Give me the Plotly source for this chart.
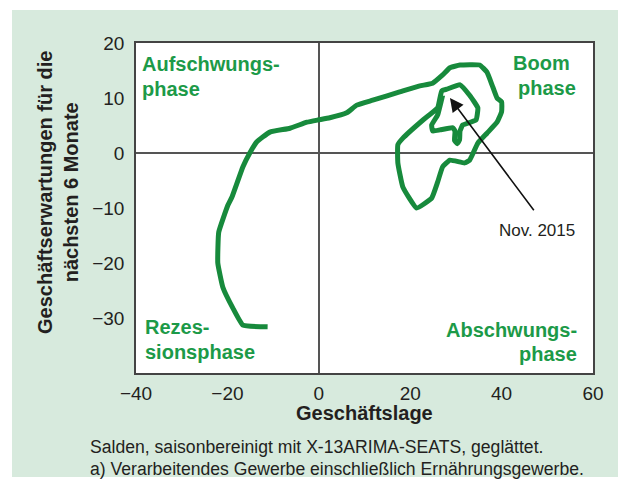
import plotly.graph_objects as go

# Data (Geschäftslage, Geschäftserwartungen)
lage = [-11.2, -16.6, -18.8, -21.0, -22.1, -21.9, -19.9, -19.0, -16.6, -15.1,
        -13.6, -10.7, -6.3, -2.6, -0.2, 2.4, 6.1, 8.3, 11.8, 17.7,
        22.1, 24.9, 27.1, 28.7, 30.9, 35.2, 36.8, 37.9, 39.0, 40.0,
        40.0, 39.0, 36.8, 34.8, 33.0, 31.9, 28.7, 27.1, 26.0, 24.7,
        21.4, 18.4, 17.3, 17.3, 18.4, 22.8, 26.0, 26.9, 28.0, 30.9,
        33.0, 34.8, 34.4, 31.5, 30.9, 30.8, 30.3, 29.7, 29.8, 29.3,
        26.5, 24.9, 24.7, 26.0, 27.1]
erwartungen = [-31.6, -31.3, -28.2, -24.4, -20.0, -14.4, -9.5, -8.0, -2.5, 0.0,
               2.0, 3.8, 4.5, 5.6, 6.0, 6.4, 7.3, 8.7, 9.6, 11.1,
               12.2, 12.7, 14.2, 15.5, 16.0, 16.0, 14.7, 12.4, 10.0, 9.3,
               7.5, 5.6, 3.6, 1.8, -1.3, -1.8, -1.3, -2.5, -5.3, -8.2,
               -10.0, -6.2, -1.8, 1.5, 2.7, 6.0, 8.2, 11.3, 11.6, 12.4,
               10.5, 8.2, 6.0, 5.1, 4.0, 2.4, 1.7, 2.3, 4.0, 4.6,
               4.2, 4.0, 5.1, 6.9, 10.5]

x_ticks = [-40, -20, 0, 20, 40, 60]
y_ticks = [-30, -20, -10, 0, 10, 20]

GREEN_LINE = "#178a3c"
GREEN_TEXT = "#1c9a48"
PANEL = "#d7eadd"
FONT = "Liberation Sans, Arial, sans-serif"
TXT = "#231f20"

fig = go.Figure()
fig.add_trace(go.Scatter(x=lage, y=erwartungen, mode="lines",
                         line=dict(color=GREEN_LINE, width=5, shape="spline", smoothing=0.35),
                         hoverinfo="skip", showlegend=False))

W, H = 618, 482
L, R, T, B = 136, 25, 43, 109
pw, ph = W - L - R, H - T - B

def px(x):
    return (x - L) / pw

def py(y):
    return (H - B - y) / ph

shapes = [
    dict(type="rect", xref="paper", yref="paper", x0=px(12), x1=px(640), y0=py(477), y1=py(10),
         fillcolor=PANEL, line=dict(width=0), layer="below"),
    dict(type="rect", xref="x", yref="y", x0=-40, x1=60, y0=-40, y1=20,
         fillcolor="white", line=dict(width=0), layer="below"),
]

ann = []
def txt(text, x, y, xanchor="center", size=20, bold=True, color=GREEN_TEXT, **kw):
    ann.append(dict(text=("<b>%s</b>" % text) if bold else text, x=px(x), y=py(y),
                    xref="paper", yref="paper", xanchor=xanchor, yanchor="middle",
                    showarrow=False, font=dict(family=FONT, size=size, color=color), **kw))

txt("Aufschwungs-", 140, 64, "left")
txt("phase", 140, 89, "left")
txt("Boom", 541, 63)
txt("phase", 547, 88)
txt("Rezes-", 143, 327, "left")
txt("sionsphase", 143, 352, "left")
txt("Abschwungs-", 579, 330, "right")
txt("phase", 579, 354, "right")
txt("Nov. 2015", 537, 230, size=17, bold=False, color=TXT)
txt("Geschäftslage", 364.5, 413, size=20, color=TXT)
txt("Geschäftserwartungen für die<br>nächsten 6 Monate", 58, 193, size=20, color=TXT, textangle=-90)
txt("Salden, saisonbereinigt mit X-13ARIMA-SEATS, geglättet.", 88, 447, "left", size=17.6, bold=False, color=TXT)
txt("a) Verarbeitendes Gewerbe einschließlich Ernährungsgewerbe.", 88, 469, "left", size=17.6, bold=False, color=TXT)

# Arrow pointing to Nov. 2015
ann.append(dict(text="", x=28.7, y=10.0, xref="x", yref="y",
                ax=47.3, ay=-10.7, axref="x", ayref="y", showarrow=True,
                arrowhead=2, arrowsize=1.7, arrowwidth=1.6, arrowcolor="#111"))

axis_common = dict(showgrid=False, zeroline=True, zerolinecolor="#555", zerolinewidth=1.5,
                   showline=True, linecolor="#444", linewidth=1.5, mirror=True,
                   tickfont=dict(family=FONT, size=19, color=TXT))

fig.update_layout(
    width=W, height=H, margin=dict(l=L, r=R, t=T, b=B),
    paper_bgcolor="white", plot_bgcolor="white",
    xaxis=dict(range=[-40, 60], tickvals=x_ticks, ticks="outside",
               tickcolor="rgba(0,0,0,0)", ticklen=2, **axis_common),
    yaxis=dict(range=[-40, 20], tickvals=y_ticks, ticks="outside",
               tickcolor="rgba(0,0,0,0)", ticklen=6, **axis_common),
    shapes=shapes, annotations=ann, showlegend=False,
)

fig.write_html("out.html", config={"displayModeBar": False},
               post_script="document.body.style.margin='0';document.body.style.overflow='hidden';")
